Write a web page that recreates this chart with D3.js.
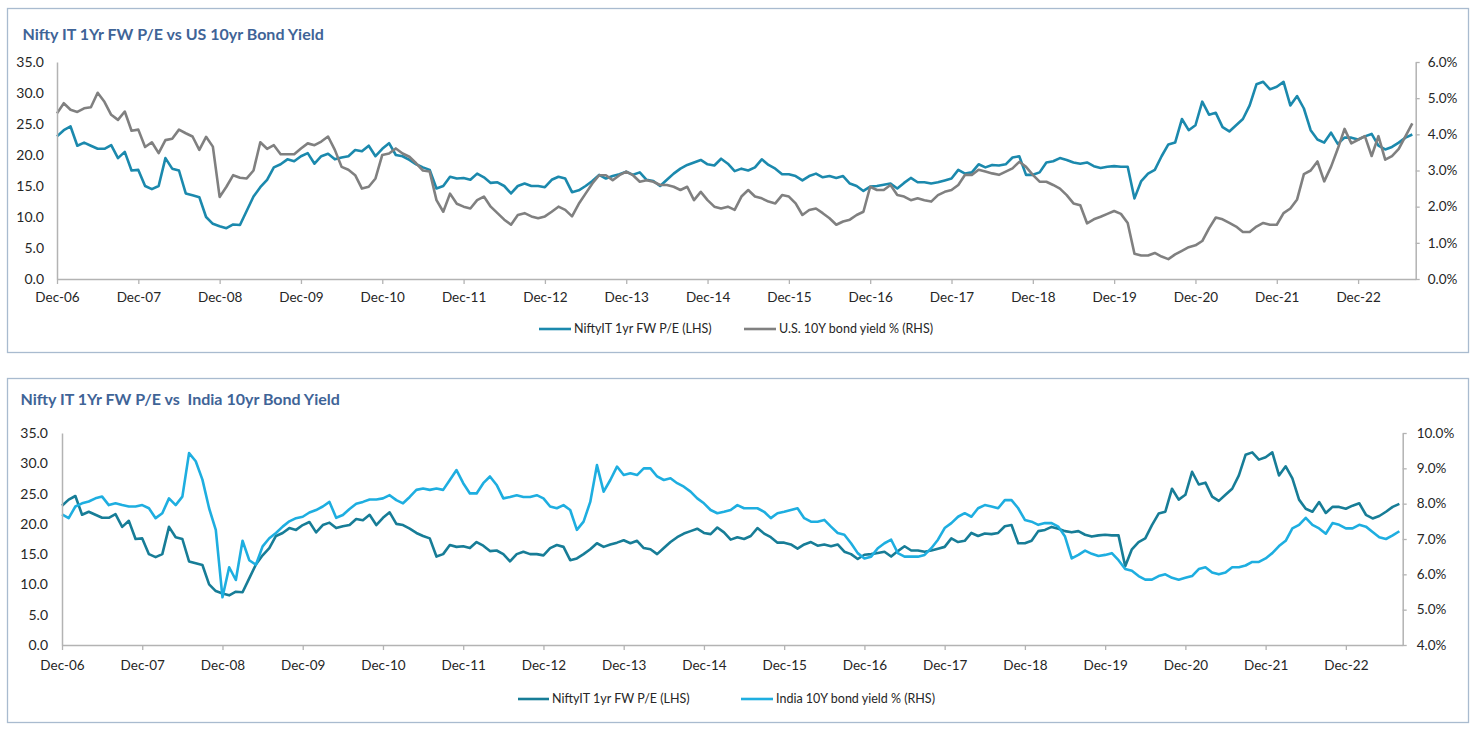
<!DOCTYPE html>
<html>
<head>
<meta charset="utf-8">
<script src="https://cdn.jsdelivr.net/npm/d3@7"></script>
<style>
  html, body { margin: 0; padding: 0; background: #ffffff; }
  svg { display: block; }
  text { font-family: Lato, "Open Sans", sans-serif; }
</style>
</head>
<body>
<svg id="chart" width="1481" height="729"></svg>
<script>
// ---------------- DATA (monthly, Dec-06 .. Aug-23) ----------------
const xTickLabels = ["Dec-06","Dec-07","Dec-08","Dec-09","Dec-10","Dec-11","Dec-12","Dec-13",
  "Dec-14","Dec-15","Dec-16","Dec-17","Dec-18","Dec-19","Dec-20","Dec-21","Dec-22"];

const peLhsTicks = [0, 5, 10, 15, 20, 25, 30, 35];
const usRhsTicks = [0, 1, 2, 3, 4, 5, 6];
const indiaRhsTicks = [4, 5, 6, 7, 8, 9, 10];

// Nifty IT 1yr forward P/E
const niftyPE = [
  23.0, 24.0, 24.6, 21.5, 22.0, 21.5, 21.0, 21.0, 21.6, 19.5, 20.5, 17.5, 17.6,
  15.0, 14.5, 15.0, 19.5, 17.8, 17.5, 13.8, 13.5, 13.2, 10.0, 8.9, 8.5,
  8.2, 8.8, 8.7, 11.0, 13.3, 14.8, 16.0, 18.0, 18.5, 19.3, 19.0, 19.8,
  20.3, 18.6, 19.8, 20.2, 19.3, 19.6, 19.8, 20.8, 20.6, 21.5, 19.8, 21.0,
  21.9, 20.0, 19.8, 19.2, 18.5, 18.0, 17.6, 14.6, 15.0, 16.5, 16.2, 16.3,
  16.0, 17.0, 16.4, 15.5, 15.6, 15.0, 13.8, 15.0, 15.4, 15.0, 15.0, 14.8,
  16.0, 16.5, 16.2, 14.0, 14.3, 15.0, 15.8, 16.8, 16.2, 16.6, 16.9, 17.3,
  16.8, 17.2, 16.0, 15.8, 15.0, 16.0, 17.0, 17.8, 18.4, 18.8, 19.2, 18.5,
  18.3, 19.4, 18.6, 17.4, 17.8, 17.5, 18.0, 19.3, 18.4, 17.8, 16.9, 16.9,
  16.6, 15.9, 16.6, 17.0, 16.4, 16.6, 16.3, 16.6, 15.4, 15.0, 14.2, 14.9,
  15.0, 15.2, 15.4, 14.6, 15.5, 16.3, 15.6, 15.6, 15.4, 15.6, 15.9, 16.2,
  17.6, 17.0, 17.2, 18.5, 18.0, 18.4, 18.3, 18.5, 19.6, 19.8, 16.8, 16.8,
  17.2, 18.8, 19.0, 19.5, 19.2, 18.8, 18.6, 18.8, 18.2, 17.9, 18.1, 18.2,
  18.1, 18.1, 13.0, 15.8, 17.0, 17.6, 19.8, 21.7, 22.0, 25.8, 24.0, 24.8,
  28.6, 26.5, 26.8, 24.5, 23.8, 24.8, 25.8, 28.0, 31.4, 31.8, 30.6, 31.0,
  31.8, 28.0, 29.5, 27.5, 24.0, 22.5, 22.0, 23.6, 21.8, 22.8, 22.8, 22.5,
  23.0, 23.4, 21.5, 20.9, 21.3, 22.0, 22.8, 23.3
];

// U.S. 10Y bond yield %
const usYield = [
  4.58, 4.86, 4.68, 4.62, 4.72, 4.75, 5.15, 4.90, 4.54, 4.40, 4.63, 4.10, 4.13,
  3.65, 3.78, 3.48, 3.84, 3.88, 4.13, 4.03, 3.94, 3.57, 3.93, 3.66, 2.27,
  2.55, 2.87, 2.80, 2.78, 3.00, 3.78, 3.60, 3.70, 3.45, 3.45, 3.45, 3.61,
  3.75, 3.70, 3.80, 3.94, 3.57, 3.10, 3.02, 2.87, 2.50, 2.55, 2.78, 3.43,
  3.47, 3.61, 3.47, 3.38, 3.20, 3.00, 2.97, 2.18, 1.86, 2.36, 2.08, 2.00,
  1.95, 2.18, 2.28, 2.00, 1.82, 1.64, 1.50, 1.77, 1.82, 1.73, 1.68, 1.73,
  1.86, 2.00, 1.91, 1.73, 2.08, 2.36, 2.64, 2.87, 2.87, 2.73, 2.87, 2.97,
  2.87, 2.69, 2.73, 2.69, 2.60, 2.60, 2.55, 2.46, 2.55, 2.18, 2.41, 2.18,
  2.00, 1.95, 2.00, 1.91, 2.28, 2.46, 2.28, 2.23, 2.14, 2.09, 2.32, 2.28,
  2.09, 1.77, 1.91, 1.95, 1.82, 1.68, 1.50, 1.59, 1.64, 1.77, 1.86, 2.55,
  2.46, 2.46, 2.60, 2.32, 2.28, 2.18, 2.23, 2.18, 2.14, 2.32, 2.41, 2.46,
  2.60, 2.88, 2.88, 3.02, 2.97, 2.92, 2.88, 2.97, 3.06, 3.24, 3.10, 2.88,
  2.69, 2.69, 2.60, 2.50, 2.32, 2.09, 2.04, 1.54, 1.65, 1.72, 1.80, 1.88,
  1.80, 1.55, 0.70, 0.65, 0.65, 0.72, 0.62, 0.55, 0.68, 0.78, 0.88, 0.93,
  1.05, 1.40, 1.70, 1.65, 1.55, 1.45, 1.30, 1.30, 1.45, 1.55, 1.50, 1.50,
  1.82, 1.95, 2.20, 2.90, 3.00, 3.25, 2.70, 3.10, 3.60, 4.15, 3.75, 3.85,
  3.95, 3.40, 3.95, 3.30, 3.40, 3.60, 3.95, 4.30
];

// India 10Y bond yield %
const indiaYield = [
  7.70, 7.59, 7.92, 8.01, 8.06, 8.15, 8.20, 7.96, 8.01, 7.96, 7.92, 7.92, 7.96,
  7.87, 7.59, 7.73, 8.15, 7.96, 8.20, 9.43, 9.20, 8.68, 7.87, 7.26, 5.35,
  6.20, 5.84, 6.95, 6.40, 6.27, 6.79, 7.02, 7.17, 7.35, 7.50, 7.59, 7.63,
  7.75, 7.82, 7.92, 8.05, 7.60, 7.68, 7.85, 8.00, 8.05, 8.12, 8.12, 8.15,
  8.24, 8.10, 8.01, 8.19, 8.39, 8.43, 8.39, 8.43, 8.39, 8.67, 8.95, 8.58,
  8.29, 8.29, 8.58, 8.77, 8.53, 8.15, 8.19, 8.24, 8.19, 8.19, 8.24, 8.15,
  7.92, 7.87, 7.96, 7.82, 7.26, 7.49, 8.05, 9.09, 8.34, 8.67, 9.05, 8.81,
  8.86, 8.81, 9.00, 9.00, 8.77, 8.67, 8.72, 8.58, 8.48, 8.34, 8.15, 8.01,
  7.82, 7.73, 7.77, 7.82, 7.96, 7.87, 7.87, 7.87, 7.77, 7.59, 7.73, 7.77,
  7.82, 7.87, 7.59, 7.49, 7.49, 7.54, 7.35, 7.17, 7.12, 6.88, 6.60, 6.45,
  6.50, 6.74, 6.88, 6.98, 6.60, 6.50, 6.50, 6.50, 6.55, 6.74, 6.98, 7.31,
  7.45, 7.63, 7.73, 7.63, 7.87, 7.96, 7.92, 7.87, 8.10, 8.10, 7.87, 7.54,
  7.49, 7.40, 7.45, 7.45, 7.35, 7.07, 6.45, 6.55, 6.67, 6.58, 6.52, 6.55,
  6.60, 6.40, 6.15, 6.10, 5.95, 5.85, 5.85, 5.95, 6.00, 5.90, 5.85, 5.90,
  5.95, 6.15, 6.20, 6.05, 6.00, 6.05, 6.20, 6.20, 6.25, 6.35, 6.35, 6.45,
  6.60, 6.80, 6.95, 7.30, 7.40, 7.60, 7.40, 7.30, 7.15, 7.45, 7.40, 7.30,
  7.30, 7.40, 7.35, 7.20, 7.05, 7.00, 7.10, 7.22
];

// ---------------- DRAWING ----------------
const svg = d3.select("#chart");
const AXIS_COLOR = "#b3b3b3";
const TEXT_COLOR = "#262626";

function drawPanel(cfg) {
  const g = svg.append("g");

  // panel frame
  g.append("rect")
    .attr("x", cfg.frame[0]).attr("y", cfg.frame[1])
    .attr("width", cfg.frame[2]).attr("height", cfg.frame[3])
    .attr("fill", "#ffffff").attr("stroke", "#a9bbcf").attr("stroke-width", 1.3);

  // title
  g.append("text")
    .attr("x", cfg.titleX).attr("y", cfg.titleY)
    .style("white-space", "pre")
    .attr("font-size", 16).attr("font-weight", "bold")
    .attr("fill", "#3f6497")
    .text(cfg.title);

  const x = d3.scaleLinear().domain([0, 200.5]).range([cfg.left, cfg.right]);
  const yL = d3.scaleLinear().domain([0, 35]).range([cfg.bottom, cfg.top]);
  const yR = d3.scaleLinear().domain(cfg.rDomain).range([cfg.bottom, cfg.top]);

  // series lines (P/E first, yield drawn over it)
  const lineL = d3.line().x((d, i) => x(i)).y(d => yL(d));
  const lineR = d3.line().x((d, i) => x(i)).y(d => yR(d));

  g.append("path").datum(niftyPE)
    .attr("d", lineL).attr("fill", "none")
    .attr("stroke", cfg.peColor).attr("stroke-width", 2.6).attr("stroke-linejoin", "round");
  g.append("path").datum(cfg.rSeries)
    .attr("d", lineR).attr("fill", "none")
    .attr("stroke", cfg.rColor).attr("stroke-width", 2.6).attr("stroke-linejoin", "round");

  // x axis
  const xAxis = d3.axisBottom(x)
    .tickValues(xTickLabels.map((d, i) => i * 12))
    .tickFormat((d, i) => xTickLabels[i])
    .tickSize(5).tickSizeOuter(0).tickPadding(cfg.xPad);
  const gx = g.append("g").attr("transform", `translate(0,${cfg.bottom})`).call(xAxis);

  // left axis
  const yAxisL = d3.axisLeft(yL).tickValues(peLhsTicks)
    .tickFormat(d3.format(".1f")).tickSize(0).tickSizeOuter(0).tickPadding(cfg.lPad);
  const gl = g.append("g").attr("transform", `translate(${cfg.left},0)`).call(yAxisL);

  // right axis
  const yAxisR = d3.axisRight(yR).tickValues(cfg.rTicks)
    .tickFormat(d => d.toFixed(1) + "%").tickSize(4).tickSizeOuter(0).tickPadding(cfg.rPad);
  const gr = g.append("g").attr("transform", `translate(${cfg.right},0)`).call(yAxisR);

  [gx, gl, gr].forEach(a => {
    a.selectAll(".domain").attr("stroke", AXIS_COLOR).attr("stroke-width", 1.5);
    a.selectAll(".tick line").attr("stroke", AXIS_COLOR).attr("stroke-width", 1.3);
    a.selectAll("text").attr("font-size", 13.5).attr("fill", TEXT_COLOR)
      .attr("font-family", "Lato, 'Open Sans', sans-serif");
  });
  gl.selectAll("text").attr("font-size", 14);

  // legend
  cfg.legend.forEach(item => {
    g.append("line")
      .attr("x1", item.x1).attr("x2", item.x2)
      .attr("y1", cfg.legendY).attr("y2", cfg.legendY)
      .attr("stroke", item.color).attr("stroke-width", 2.6);
    g.append("text")
      .attr("x", item.x2 + 3).attr("y", cfg.legendY)
      .attr("dy", "0.35em")
      .attr("font-size", 12.5).attr("fill", TEXT_COLOR)
      .text(item.label);
  });
}

drawPanel({
  frame: [7.5, 8.5, 1461, 344],
  title: "Nifty IT 1Yr FW P/E vs US 10yr Bond Yield",
  titleX: 22.5, titleY: 40,
  left: 57, right: 1415.7, top: 62, bottom: 279,
  xPad: 8, lPad: 13, rPad: 8,
  rDomain: [0, 6], rTicks: usRhsTicks,
  rSeries: usYield, rColor: "#808080",
  peColor: "#1b89ad",
  legendY: 329,
  legend: [
    { x1: 539, x2: 571, color: "#1b89ad", label: "NiftyIT 1yr FW P/E (LHS)" },
    { x1: 744, x2: 776, color: "#808080", label: "U.S. 10Y bond yield % (RHS)" }
  ]
});

drawPanel({
  frame: [7.5, 378.5, 1461, 344],
  title: "Nifty IT 1Yr FW P/E vs  India 10yr Bond Yield",
  titleX: 20.5, titleY: 404.5,
  left: 62, right: 1402.7, top: 433, bottom: 645,
  xPad: 10, lPad: 14, rPad: 10,
  rDomain: [4, 10], rTicks: indiaRhsTicks,
  rSeries: indiaYield, rColor: "#1eaee0",
  peColor: "#177d97",
  legendY: 699,
  legend: [
    { x1: 518, x2: 549, color: "#177d97", label: "NiftyIT 1yr FW P/E (LHS)" },
    { x1: 741, x2: 773, color: "#1eaee0", label: "India 10Y bond yield % (RHS)" }
  ]
});
</script>
</body>
</html>
